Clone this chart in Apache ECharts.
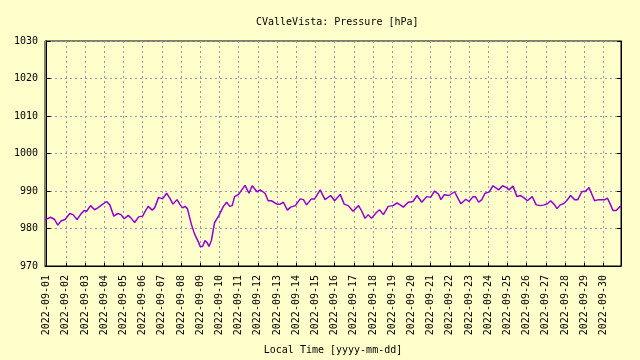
<!DOCTYPE html>
<html><head><meta charset="utf-8">
<script src="https://cdn.jsdelivr.net/npm/echarts@6/dist/echarts.min.js"></script>
<style>html,body{margin:0;padding:0;background:#ffffcc;}#c{width:640px;height:360px;}</style>
</head><body><div id="c"></div>
<script>
// hours since 2022-09-01 00:00 local time
const hours = [-2,5,10,14,18,23,29,33,38,43,47,50,55,60,64,69,75,79,84,89,93,97,102,105,110,115,120,123,127,132,135,140,145,150,154,158,163,167,170,173,176,181,185,190,192,195,198,201,203,206,210,215,221,225,229,232,235,240,244,248,253,257,263,267,273,277,281,288,292,296,301,305,311,317,321,325,331,335,342,348,355,360,367,372,377,383,390,394,398,402,406,412,416,421,427,433,438,442,446,452,458,463,469,475,480,485,490,493,497,503,510,515,518,524,528,533,536,540,544,548,553,558,565,570,575,578,583,588,592,596,601,607,612,617,622,626,630,635,638,642,646,650,655,660,664,669,674,678,681,685,690,695,698,701,705,708,712,717,718];
const pressure = [982.3,983.0,982.4,980.9,982.0,982.4,984.0,983.7,982.4,983.9,984.8,984.6,986.1,985.0,985.5,986.3,987.2,986.3,983.3,984.0,983.7,982.6,983.5,982.9,981.6,983.1,983.3,984.5,985.9,984.9,985.5,988.3,987.9,989.4,988.1,986.5,987.7,986.3,985.5,985.9,985.3,981.1,978.5,976.3,975.2,975.2,976.8,976.1,975.2,976.8,981.6,983.3,985.9,987.0,985.9,986.1,988.5,989.1,990.3,991.5,989.4,991.4,989.8,990.3,989.4,987.4,987.4,986.5,986.5,987.0,984.9,985.7,986.1,987.9,987.7,986.3,987.9,987.9,990.3,987.7,988.8,987.4,989.1,986.5,986.1,984.6,986.1,984.6,982.7,983.7,982.7,984.2,985.0,983.7,985.9,986.1,986.8,986.3,985.7,987.0,987.2,988.8,987.0,988.5,988.3,990.0,989.1,987.7,989.0,988.8,989.8,987.7,986.6,987.8,987.2,988.5,988.5,987.0,987.7,989.4,989.7,991.4,990.3,991.4,990.9,990.3,991.3,988.5,988.8,988.3,987.4,988.5,986.3,986.1,986.3,986.6,987.4,986.3,985.3,986.3,986.6,987.4,988.8,987.7,987.7,989.8,990.0,990.9,989.4,987.4,987.7,987.7,987.7,988.1,986.3,984.8,984.8,985.9,985.7];
const tickLabels = ['2022-09-01','2022-09-02','2022-09-03','2022-09-04','2022-09-05','2022-09-06','2022-09-07','2022-09-08','2022-09-09','2022-09-10','2022-09-11','2022-09-12','2022-09-13','2022-09-14','2022-09-15','2022-09-16','2022-09-17','2022-09-18','2022-09-19','2022-09-20','2022-09-21','2022-09-22','2022-09-23','2022-09-24','2022-09-25','2022-09-26','2022-09-27','2022-09-28','2022-09-29','2022-09-30'];
const tickHours = tickLabels.map((_, i) => i * 24);

const FONT = 'DejaVu Sans Mono';
const GRID = {color: '#9898a8', type: [2, 3], width: 1};
const chart = echarts.init(document.getElementById('c'), null, {renderer: 'canvas'});
chart.setOption({
  backgroundColor: '#ffffcc',
  animation: false,
  title: {
    text: 'CValleVista: Pressure [hPa]',
    left: 251, top: 12,
    textStyle: {fontFamily: FONT, fontSize: 10, fontWeight: 'normal', color: '#000'}
  },
  grid: {left: 45, right: 19, top: 41, bottom: 89, show: true, borderColor: '#000', borderWidth: 1, backgroundColor: 'transparent'},
  xAxis: {
    type: 'value', min: -2, max: 718,
    name: 'Local Time [yyyy-mm-dd]', nameLocation: 'middle', nameGap: 79,
    nameTextStyle: {fontFamily: FONT, fontSize: 10, color: '#000'},
    axisLine: {show: true, lineStyle: {color: '#000'}},
    axisTick: {show: true, inside: true, length: 3, customValues: tickHours, lineStyle: {color: '#000'}},
    axisLabel: {customValues: tickHours, rotate: 90, margin: 9, fontFamily: FONT, fontSize: 10, color: '#000',
      formatter: v => tickLabels[Math.round(v / 24)] || ''},
    splitLine: {show: true, lineStyle: GRID}
  },
  yAxis: [{
    type: 'value', min: 970, max: 1030, interval: 10,
    axisLine: {show: true, lineStyle: {color: '#000'}},
    axisTick: {show: true, inside: true, length: 4, lineStyle: {color: '#000'}},
    axisLabel: {margin: 7, fontFamily: FONT, fontSize: 10, color: '#000', formatter: v => String(v)},
    splitLine: {show: true, lineStyle: GRID}
  }, {
    type: 'value', min: 970, max: 1030, interval: 10, position: 'right',
    axisLine: {show: true, lineStyle: {color: '#000'}},
    axisTick: {show: true, inside: true, length: 4, lineStyle: {color: '#000'}},
    axisLabel: {show: false}, splitLine: {show: false}
  }],
  series: [{
    type: 'line', yAxisIndex: 0, showSymbol: false, smooth: false,
    data: hours.map((h, i) => [h, pressure[i]]),
    lineStyle: {color: '#9400d3', width: 1.5},
    itemStyle: {color: '#9400d3'}
  }]
});
</script></body></html>
